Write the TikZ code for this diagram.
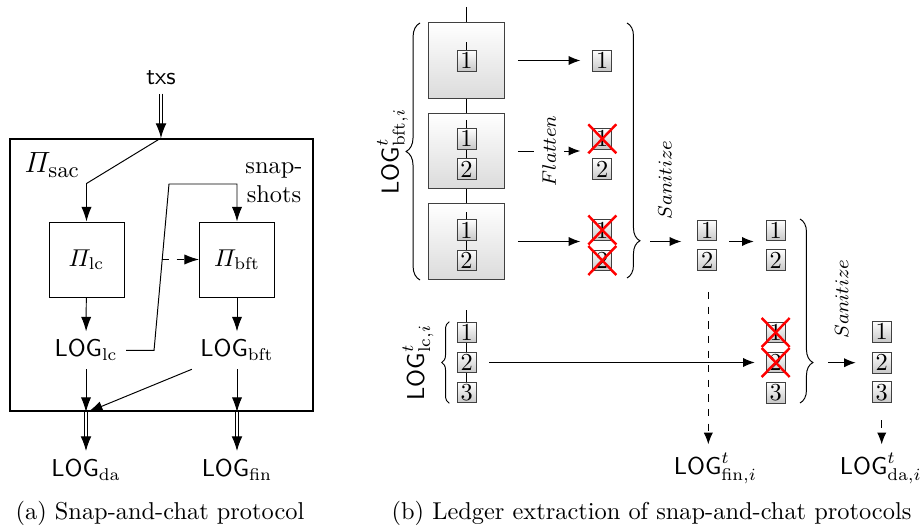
\documentclass[tikz,border=0pt]{standalone}
\usepackage{amsmath}
\usetikzlibrary{arrows.meta,decorations.pathreplacing,calc}
\begin{document}
\begin{tikzpicture}[x=0.41pt,y=-0.41pt,
  arr/.style={-{Latex[length=4.8pt,width=3.8pt]}},
  arra/.style={-{Latex[length=6pt,width=4.2pt]}},
  dbl/.style={double,double distance=0.8pt,-{Latex[length=6pt,width=4.4pt]}},
  pbox/.style={draw,minimum size=30.75pt,inner sep=0pt},
  blk/.style={draw=black!75,top color=white,bottom color=black!14,minimum size=31pt,inner sep=0pt},
  tx/.style={draw=black!75,top color=white,bottom color=black!22,minimum width=7.8pt,minimum height=8.6pt,inner sep=0pt},
  cross/.style={red,line width=1pt},
  rlbl/.style={rotate=90,font=\footnotesize},
  brc/.style={decorate,decoration={brace,amplitude=#1}},
]
\useasboundingbox (0,0) rectangle (923,529);

% ---------- panel (a) ----------
\node[font=\sffamily] (txs) at (161,78) {txs};
\node[draw,thick,minimum width=124.2pt,minimum height=111.5pt,inner sep=0pt] (sac) at (161.5,275) {};
\node[anchor=west,font=\fontsize{13}{15}\selectfont] (sacl) at (16,165) {$\varPi_{\mathrm{sac}}$};
\node[pbox] (lc) at (86.5,259.5) {$\varPi_{\mathrm{lc}}$};
\node[pbox] (bft) at (237,259.5) {$\varPi_{\mathrm{bft}}$};
\node[anchor=base] (loglc) at (86,357) {$\mathsf{LOG}_{\mathrm{lc}}$};
\node[anchor=base] (logbft) at (237,357) {$\mathsf{LOG}_{\mathrm{bft}}$};
\node[anchor=base] (logda) at (86,476.5) {$\mathsf{LOG}_{\mathrm{da}}$};
\node[anchor=base] (logfin) at (237,476.5) {$\mathsf{LOG}_{\mathrm{fin}}$};
\node[align=center,inner sep=0pt] (snap) at (274,183) {snap-\\shots};

\draw[dbl] (txs) -- (txs |- sac.north);
\draw[arra] (txs |- sac.north) -- ($(lc.north)+(0,-38)$) -- (lc.north);
\draw[arra] (loglc.east) -- ++(28,0) -- (169,184) -- (bft.north |- 0,184) -- (bft.north);
\coordinate (dsh) at (162,259.5);
\draw[arra,dashed] (dsh) -- (bft.west);
\draw[arra] (lc) -- (loglc);
\draw[arra] (bft) -- (logbft);
\draw[arra] (loglc) -- (loglc |- sac.south);
\draw[arra] (logbft) -- (logbft |- sac.south);
\draw[arra] (logbft.south west) -- ($(loglc |- sac.south)+(2,0)$);
\draw[dbl] (loglc |- sac.south) -- (logda);
\draw[dbl] (logbft |- sac.south) -- (logfin);

\node (capa) at (160,513) {(a) Snap-and-chat protocol};

% ---------- panel (b) ----------
\coordinate (top) at (466.5,7);
\node[blk] (b1) at (466.5,60.5) {};
\node[blk] (b2) at (466.5,151) {};
\node[blk] (b3) at (466.5,241.5) {};
\draw (top) -- (b1);
\draw (b1) -- (b2);
\draw (b2) -- (b3);

\node[tx] (b1a) at (466.5,60.7) {1};
\node[tx] (b2a) at (466.5,138.8) {1};
\node[tx] (b2b) at (466.5,169.3) {2};
\node[tx] (b3a) at (466.5,230) {1};
\node[tx] (b3b) at (466.5,260.5) {2};
\draw (b1a.north) -- ++(0,-7.5);
\draw (b2a.north) -- ++(0,-7.5);
\draw (b3a.north) -- ++(0,-7.5);
\draw (b2a) -- (b2b);
\draw (b3a) -- (b3b);

\draw[brc=5.7pt] (420,280) -- (420,23);
\node[rotate=90] (lbft) at (392.5,151.5) {$\mathsf{LOG}^t_{\mathrm{bft},i}$};

% flatten results
\node[tx] (r1a) at (602.3,60.7) {1};
\node[tx] (r2a) at (602.3,138.8) {1};
\node[tx] (r2b) at (602.3,169.3) {2};
\node[tx] (r3a) at (602.3,230) {1};
\node[tx] (r3b) at (602.3,260.5) {2};
\draw[arr] ($(b1.east)+(13,0)$) -- ($(b1.east -| r1a.west)+(-12,0)$);
\draw[arr] ($(b2.east)+(13,0)$) -- ($(b2.east -| r2a.west)+(-12,0)$)
  node[midway,rlbl,fill=white] {$Flatten$};
\draw[arr] ($(b3.east)+(13,0)$) -- ($(b3.east -| r3a.west)+(-12,0)$);
\foreach \n in {r2a,r3a,r3b}{
  \draw[cross] ($(\n)+(-14,-14.5)$) -- ($(\n)+(14,14.5)$);
  \draw[cross] ($(\n)+(14,-14.5)$) -- ($(\n)+(-14,14.5)$);
}

\draw[brc=5.3pt,decoration={aspect=0.854}] (627,23) -- (627,278);
\coordinate (t1) at (640,241.5);

% first sanitize
\node[tx] (s1a) at (707.3,230.5) {1};
\node[tx] (s1b) at (707.3,260) {2};
\draw[arr] ($(t1)+(10,0)$) -- ($(t1 -| s1a.west)+(-16,0)$);
\node[rlbl] (san1) at (665,180) {$Sanitize$};
\node[tx] (s2a) at (775.7,230.5) {1};
\node[tx] (s2b) at (775.7,260) {2};
\draw[arr] ($(t1 -| s1a.east)+(12,0)$) -- ($(t1 -| s2a.west)+(-12,0)$);

% lc chain
\node[tx] (l1) at (466.7,332.5) {1};
\node[tx] (l2) at (466.7,362.5) {2};
\node[tx] (l3) at (466.7,392.5) {3};
\draw (l1.north) -- ++(0,-11.7);
\draw (l1) -- (l2);
\draw (l2) -- (l3);
\draw[brc=3.1pt] (449.3,403.3) -- (449.3,321.7);
\node[rotate=90] (llc) at (418,362.5) {$\mathsf{LOG}^t_{\mathrm{lc},i}$};

\node[tx] (c1) at (775.7,332.5) {1};
\node[tx] (c2) at (775.7,362.5) {2};
\node[tx] (c3) at (775.7,392.7) {3};
\draw[arr] ($(l2.east)+(12.5,0)$) -- ($(c2.west)+(-11,0)$);
\foreach \n in {c1,c2}{
  \draw[cross] ($(\n)+(-14,-14.5)$) -- ($(\n)+(14,14.5)$);
  \draw[cross] ($(\n)+(14,-14.5)$) -- ($(\n)+(-14,14.5)$);
}

\draw[brc=5.3pt,decoration={aspect=0.78}] (800,219) -- (800,403);
\coordinate (t2) at (813,362.7);

% second sanitize
\node[tx] (f1) at (881.7,331.7) {1};
\node[tx] (f2) at (881.7,362.7) {2};
\node[tx] (f3) at (881.7,392.3) {3};
\draw[arr] ($(t2)+(15,0)$) -- ($(f2.west)+(-16,0)$);
\node[rlbl] (san2) at (841.7,299) {$Sanitize$};

% outputs
\node[anchor=base] (lfin) at (715.5,474.3) {$\mathsf{LOG}^t_{\mathrm{fin},i}$};
\node[anchor=base] (lda) at (880.8,474.3) {$\mathsf{LOG}^t_{\mathrm{da},i}$};
\draw[arr,dashed] ($(s1b.south)+(1,21)$) -- ($(s1b.south |- lfin.north)+(1,0)$);
\draw[arr,dashed] ($(f3.south)+(0,17)$) -- (f3.south |- lda.north);

\node (capb) at (651.5,513) {(b) Ledger extraction of snap-and-chat protocols};
\end{tikzpicture}
\end{document}
